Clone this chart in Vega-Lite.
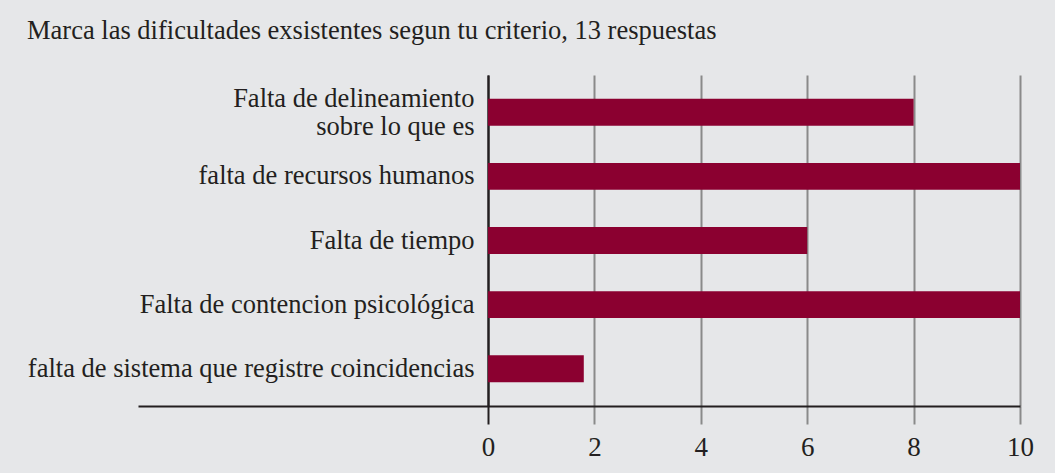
{
  "$schema": "https://vega.github.io/schema/vega-lite/v6.json",
  "autosize": "none",
  "width": 882,
  "height": 331,
  "padding": {"left": 138, "top": 75, "right": 35, "bottom": 67},
  "background": "#e6e7e9",
  "title": {
    "text": "Marca las dificultades exsistentes segun tu criterio, 13 respuestas",
    "anchor": "start",
    "frame": "group",
    "dx": -111,
    "offset": 31,
    "font": "'Liberation Serif', 'Times New Roman', serif",
    "fontSize": 26.5,
    "fontWeight": "normal",
    "color": "#231f20"
  },
  "data": {
    "values": [
      {"dificultad": "Falta de delineamiento|sobre lo que es", "respuestas": 8},
      {"dificultad": "falta de recursos humanos", "respuestas": 10},
      {"dificultad": "Falta de tiempo", "respuestas": 6},
      {"dificultad": "Falta de contencion psicológica", "respuestas": 10},
      {"dificultad": "falta de sistema que registre coincidencias", "respuestas": 1.8}
    ]
  },
  "mark": {"type": "bar", "color": "#8b0030"},
  "encoding": {
    "y": {
      "field": "dificultad",
      "type": "nominal",
      "sort": null,
      "title": null,
      "scale": {"paddingInner": 0.58, "paddingOuter": 0.37},
      "axis": {
        "offset": -350,
        "labelExpr": "split(datum.label, '|')",
        "labelFont": "'Liberation Serif', 'Times New Roman', serif",
        "labelFontSize": 26.5,
        "labelColor": "#231f20",
        "labelLineHeight": 27.5,
        "labelPadding": 14,
        "labelLimit": 600,
        "labelOffset": {"condition": {"test": "indexof(datum.value, '|') >= 0", "value": -13}, "value": 0},
        "ticks": false,
        "grid": false,
        "domainColor": "#231f20",
        "domainWidth": 2
      }
    },
    "x": {
      "field": "respuestas",
      "type": "quantitative",
      "title": null,
      "scale": {"domain": [-6.58, 10], "nice": false, "zero": false},
      "axis": {
        "values": [0, 2, 4, 6, 8, 10],
        "labelFont": "'Liberation Serif', 'Times New Roman', serif",
        "labelFontSize": 27,
        "labelColor": "#231f20",
        "labelPadding": 10,
        "labelFlush": false,
        "tickSize": 18,
        "tickWidth": 2,
        "tickColor": {"condition": {"test": "datum.value == 0", "value": "#231f20"}, "value": "#8a8a8a"},
        "grid": true,
        "gridWidth": 2,
        "gridColor": {"condition": {"test": "datum.value == 0", "value": "#231f20"}, "value": "#8a8a8a"},
        "domainColor": "#231f20",
        "domainWidth": 2
      }
    }
  },
  "config": {"view": {"stroke": null}}
}
